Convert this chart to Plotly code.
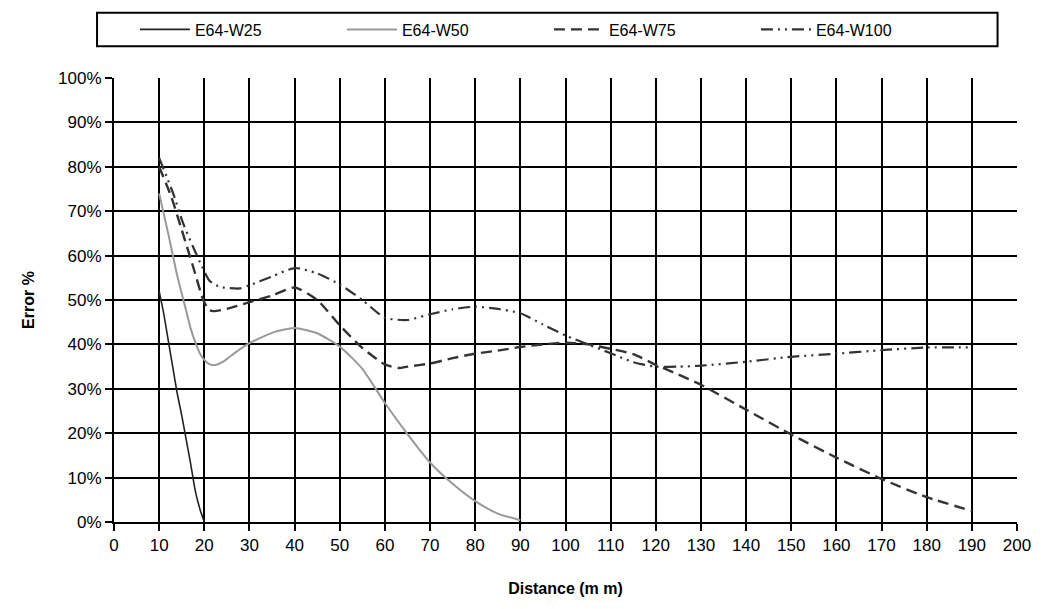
import plotly.graph_objects as go

# ---- data ----
x_w25 = [10, 11, 12, 13, 14, 15, 16, 17, 18, 19, 20]
y_w25 = [0.52, 0.47, 0.41, 0.35, 0.29, 0.24, 0.185, 0.13, 0.07, 0.03, 0.0]

x_w50 = [10, 12, 14, 16, 17, 18, 19, 20, 21, 22, 24, 26, 28, 30, 35, 40, 45, 50,
         55, 60, 65, 70, 75, 80, 85, 90]
y_w50 = [0.74, 0.65, 0.555, 0.475, 0.435, 0.405, 0.38, 0.365, 0.356, 0.353, 0.36, 0.375, 0.39,
         0.403, 0.426, 0.437, 0.425, 0.395, 0.345, 0.268, 0.198, 0.134, 0.086, 0.047, 0.019,
         0.004]

x_w75 = [10, 12.7, 15, 17.5, 19.7, 21, 22, 25, 30, 35, 40, 45, 50, 55, 60, 63, 65, 70, 75, 80,
         85, 90, 95, 100, 105, 110, 115, 120, 125, 130, 140, 150, 160, 170, 180, 190]
y_w75 = [0.80, 0.732, 0.658, 0.576, 0.502, 0.478, 0.475, 0.48, 0.495, 0.51, 0.528, 0.50, 0.443,
         0.392, 0.355, 0.347, 0.35, 0.357, 0.369, 0.379, 0.386, 0.394, 0.40, 0.404, 0.40, 0.39,
         0.378, 0.354, 0.332, 0.309, 0.253, 0.197, 0.145, 0.097, 0.056, 0.025]

x_w100 = [10, 13.1, 15.3, 17.5, 19.5, 21.2, 23.4, 27.8, 30, 35, 40, 45, 50, 55, 60, 65, 70, 75,
          80, 85, 90, 95, 100, 105, 110, 115, 120, 125, 130, 140, 150, 160, 170, 180, 190]
y_w100 = [0.82, 0.74, 0.673, 0.62, 0.575, 0.543, 0.53, 0.526, 0.533, 0.553, 0.572, 0.56, 0.535,
          0.50, 0.46, 0.455, 0.468, 0.479, 0.485, 0.48, 0.47, 0.445, 0.42, 0.40, 0.38, 0.36, 0.35,
          0.35, 0.352, 0.361, 0.372, 0.379, 0.387, 0.393, 0.393]

names = ["E64-W25", "E64-W50", "E64-W75", "E64-W100"]
x_ticks = list(range(0, 201, 10))
y_ticks = [i / 10 for i in range(0, 11)]

FONT = "Liberation Sans, Arial, sans-serif"

fig = go.Figure()
fig.add_trace(go.Scatter(x=x_w25, y=y_w25, name=names[0], mode="lines",
                         line=dict(color="#222222", width=1.6, shape="spline", smoothing=0.6)))
fig.add_trace(go.Scatter(x=x_w50, y=y_w50, name=names[1], mode="lines",
                         line=dict(color="#999999", width=2, shape="spline", smoothing=0.6)))
fig.add_trace(go.Scatter(x=x_w75, y=y_w75, name=names[2], mode="lines",
                         line=dict(color="#333333", width=2.4, dash="11px,6px",
                                   shape="spline", smoothing=0.6)))
fig.add_trace(go.Scatter(x=x_w100, y=y_w100, name=names[3], mode="lines",
                         line=dict(color="#333333", width=2.2, dash="12px,5px,2px,5px,2px,5px",
                                   shape="spline", smoothing=0.6)))

# plot-area geometry in pixels (used only to place the legend box)
L, R, T, B = 114, 23.5, 73, 87.3
W = 1043 - L - R
H = 609 - T - B

def px_x(p):
    return (p - L) / W

def px_y(p):
    return 1 + (T - p) / H

fig.update_layout(
    width=1043, height=609,
    margin=dict(l=L, r=R, t=T, b=B),
    paper_bgcolor="white", plot_bgcolor="white",
    font=dict(family=FONT, size=17, color="black"),
    showlegend=True,
    legend=dict(
        orientation="h", x=px_x(135), xanchor="left", y=px_y(24), yanchor="middle",
        borderwidth=0, bgcolor="rgba(0,0,0,0)",
        font=dict(family=FONT, size=16, color="black"),
        entrywidth=142, entrywidthmode="pixels",
        itemwidth=50, tracegroupgap=0,
    ),
    shapes=[dict(type="rect", xref="paper", yref="paper",
                 x0=px_x(97), x1=px_x(1000), y0=px_y(41), y1=px_y(7),
                 line=dict(color="black", width=2), layer="below")],
    xaxis=dict(
        range=[0, 200], tickvals=x_ticks, ticktext=[str(v) for v in x_ticks],
        showgrid=True, gridcolor="black", gridwidth=2,
        showline=True, linecolor="black", linewidth=2,
        ticks="outside", ticklen=7, tickwidth=1.5, tickcolor="black",
        zeroline=False,
        title=dict(text="<b>Distance (m m)</b>", font=dict(family=FONT, size=16), standoff=28),
    ),
    yaxis=dict(
        range=[0, 1], tickvals=y_ticks, tickformat=".0%",
        showgrid=True, gridcolor="black", gridwidth=2,
        showline=True, linecolor="black", linewidth=2,
        ticks="outside", ticklen=7, tickwidth=1.5, tickcolor="black",
        zeroline=False,
        title=dict(text="<b>Error %</b>", font=dict(family=FONT, size=16), standoff=20),
    ),
)

fig.write_html("out.html")
